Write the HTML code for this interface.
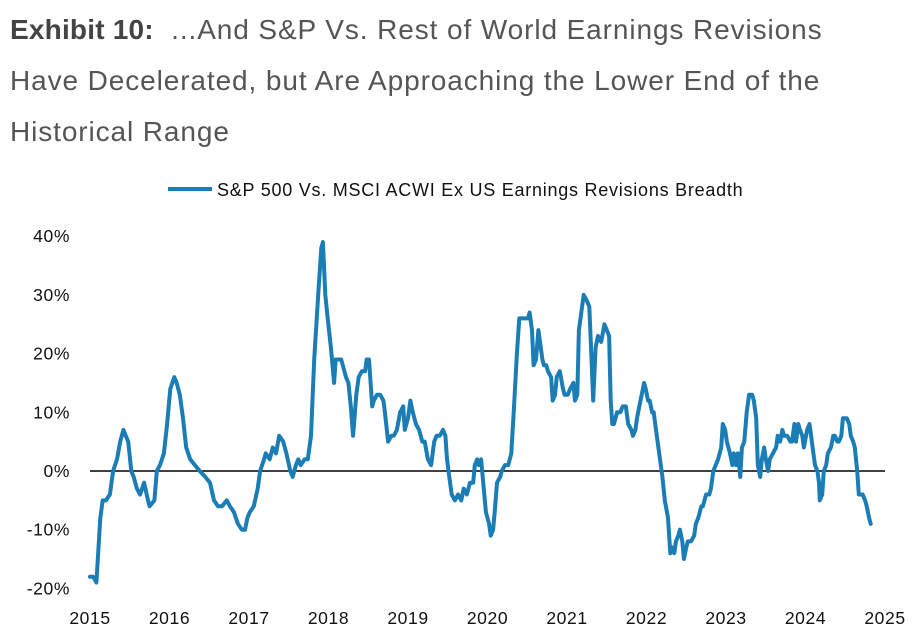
<!DOCTYPE html>
<html><head><meta charset="utf-8">
<style>
body{margin:0;background:#fff;width:920px;height:638px;overflow:hidden;font-family:"Liberation Sans",sans-serif}
.title{position:absolute;left:10px;top:4px;font-size:28px;line-height:51px;color:#555;letter-spacing:0.9px}
.title b{color:#444;letter-spacing:0.2px}
svg{position:absolute;left:0;top:0}
</style></head><body>
<div class="title"><b>Exhibit 10:</b>&nbsp; ...And S&amp;P Vs. Rest of World Earnings Revisions<br>Have Decelerated, but Are Approaching the Lower End of the<br>Historical Range</div>
<svg id="c" width="920" height="638"></svg>
<script>
const yearsSince2015=[0,.04,.08,.13,.16,.20,.25,.29,.34,.38,
.42,.45,.48,.52,.55,.59,.63,.68,.73,.75,
.81,.84,.88,.93,.97,1.01,1.06,1.09,1.13,1.17,
1.21,1.26,1.32,1.38,1.45,1.51,1.56,1.61,1.66,1.72,
1.76,1.81,1.86,1.91,1.95,1.98,2.01,2.06,2.11,2.14,
2.19,2.21,2.26,2.30,2.34,2.38,2.43,2.47,2.52,2.55,
2.59,2.62,2.65,2.70,2.74,2.78,2.82,2.87,2.91,2.93,
2.96,2.99,3.03,3.07,3.09,3.13,3.16,3.20,3.22,3.25,
3.28,3.31,3.35,3.38,3.42,3.46,3.48,3.51,3.55,3.57,
3.61,3.65,3.69,3.71,3.75,3.79,3.82,3.86,3.90,3.94,
3.96,4.00,4.03,4.06,4.10,4.14,4.18,4.21,4.25,4.29,
4.33,4.36,4.40,4.44,4.47,4.49,4.52,4.55,4.59,4.63,
4.67,4.70,4.74,4.78,4.82,4.84,4.87,4.89,4.92,4.94,
4.98,5.02,5.04,5.07,5.09,5.12,5.16,5.18,5.22,5.26,
5.30,5.33,5.37,5.40,5.43,5.47,5.51,5.53,5.56,5.58,
5.61,5.64,5.66,5.69,5.71,5.74,5.76,5.80,5.82,5.85,
5.87,5.91,5.95,5.97,6.01,6.04,6.08,6.10,6.13,6.15,
6.18,6.21,6.25,6.28,6.30,6.33,6.36,6.39,6.43,6.47,
6.50,6.53,6.55,6.57,6.59,6.63,6.67,6.70,6.74,6.77,
6.81,6.83,6.86,6.88,6.91,6.94,6.97,6.99,7.02,7.04,
7.07,7.09,7.12,7.16,7.20,7.23,7.27,7.30,7.32,7.35,
7.37,7.40,7.42,7.45,7.47,7.50,7.52,7.56,7.60,7.62,
7.65,7.69,7.71,7.75,7.79,7.81,7.84,7.87,7.90,7.94,
7.96,7.99,8.01,8.05,8.08,8.10,8.13,8.15,8.18,8.20,
8.23,8.26,8.29,8.33,8.35,8.38,8.40,8.43,8.45,8.48,
8.50,8.53,8.55,8.59,8.63,8.65,8.68,8.71,8.73,8.77,
8.81,8.83,8.86,8.88,8.91,8.93,8.96,8.98,9.02,9.05,
9.07,9.10,9.12,9.15,9.17,9.18,9.21,9.23,9.26,9.28,
9.32,9.35,9.37,9.40,9.42,9.45,9.47,9.50,9.52,9.55,
9.57,9.60,9.62,9.65,9.67,9.70,9.72,9.75,9.77,9.80,
9.82];
const revisionsBreadth=[-18,-18,-19,-8,-5,-5,-4,0,2,5,
7,6,5,0,-1,-3,-4,-2,-5,-6,
-5,0,1,3,8,14,16,15,13,9,
4,2,1,0,-1,-2,-5,-6,-6,-5,
-6,-7,-9,-10,-10,-8,-7,-6,-3,0,
2,3,2,4,3,6,5,3,0,-1,
1,2,1,2,2,6,19,30,38,39,
30,26,21,15,19,19,19,17,16,15,
11,6,13,16,17,17,19,19,11,12,
13,13,12,10,5,6,6,7,10,11,
7,9,12,10,8,7,5,5,2,1,
5,6,6,7,6,2,-1,-4,-5,-4,
-5,-3,-4,-2,-2,1,2,1,2,-1,
-7,-9,-11,-10,-7,-2,-1,0,1,1,
3,10,20,26,26,26,26,27,24,18,
19,24,22,19,18,18,17,16,12,13,
16,17,14,13,13,14,15,12,13,24,
27,30,29,28,22,12,21,23,22,25,
24,23,12,8,8,10,10,11,11,8,
7,6,7,9,11,13,15,14,12,12,
10,10,7,3,-1,-5,-8,-14,-13,-14,
-12,-11,-10,-12,-15,-13,-12,-12,-11,-9,
-8,-6,-6,-4,-4,-3,0,1,2,4,
8,7,5,3,1,3,1,3,-1,4,
5,10,13,13,12,9,1,-1,2,4,
2,0,2,3,4,6,5,7,6,6,
5,5,8,5,8,7,6,4,7,8,
6,3,1,0,-2,-5,-4,0,1,3,
4,6,6,5,5,6,9,9,9,8,
6,5,4,0,-4,-4,-4,-5,-6,-8,
-9];
const yTickValues=[40,30,20,10,0,-10,-20];
const xTickYears=[2015,2016,2017,2018,2019,2020,2021,2022,2023,2024,2025];
const seriesName="S&P 500 Vs. MSCI ACWI Ex US Earnings Revisions Breadth";

const svg=document.getElementById('c');
const NS='http://www.w3.org/2000/svg';
const x0=90,x1=885,y0=471,perTen=58.7;
function xScale(yr){return x0+(yr-2015)/10*(x1-x0);}
function yScale(v){return y0-v/10*perTen;}
function mk(t,a){const e=document.createElementNS(NS,t);for(const k in a)e.setAttribute(k,a[k]);svg.appendChild(e);return e;}

yTickValues.forEach(v=>{
  const t=mk('text',{x:70,y:yScale(v)+6,'text-anchor':'end','font-size':17.5,'letter-spacing':0.6,fill:'#111'});
  t.textContent=v+'%';
  
  
});
xTickYears.forEach(y=>{
  const t=mk('text',{x:xScale(y),y:624,'text-anchor':'middle','font-size':17.5,'letter-spacing':0.6,fill:'#111'});
  t.textContent=y;
  
  
});
const zl=mk('line',{x1:x0,x2:x1,y1:yScale(0),y2:yScale(0),stroke:'#000','stroke-width':1.5});



let d='';
yearsSince2015.forEach((t,i)=>{d+=(i?'L':'M')+xScale(2015+t).toFixed(1)+','+yScale(revisionsBreadth[i]).toFixed(1);});
const p=mk('path',{d:d,fill:'none',stroke:'#1a7db5','stroke-width':4,'stroke-linejoin':'round','stroke-linecap':'round'});



const lg=mk('line',{x1:168,x2:212,y1:189,y2:189,stroke:'#1a7db5','stroke-width':4});


const lt=mk('text',{x:217,y:196,'font-size':18,'letter-spacing':0.75,fill:'#111'});
lt.textContent=seriesName;


</script>
</body></html>
